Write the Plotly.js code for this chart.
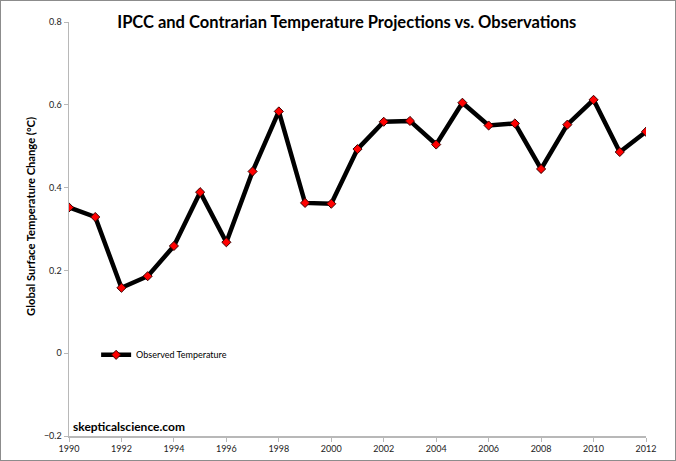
<!DOCTYPE html>
<html>
<head>
<meta charset="utf-8">
<script src="https://cdn.plot.ly/plotly-3.0.1.min.js"></script>
<style>
html,body{margin:0;padding:0;background:#fff;}
#frame{position:absolute;left:0;top:0;width:674px;height:459px;border:1px solid #8c8c8c;}
#chart{position:absolute;left:0;top:0;width:676px;height:461px;}
</style>
</head>
<body>
<div id="chart"></div>
<div id="frame"></div>
<script>
var years = [1990,1991,1992,1993,1994,1995,1996,1997,1998,1999,2000,2001,2002,2003,2004,2005,2006,2007,2008,2009,2010,2011,2012];
var observed = [0.352,0.329,0.158,0.186,0.259,0.389,0.268,0.439,0.584,0.363,0.361,0.493,0.559,0.561,0.504,0.605,0.550,0.555,0.445,0.552,0.612,0.486,0.535];
var seriesName = 'Observed Temperature';
var chartTitle = 'IPCC and Contrarian Temperature Projections vs. Observations';
var yTitle = 'Global Surface Temperature Change (°C)';
var watermark = 'skepticalscience.com';

var trace = {
  x: years, y: observed, name: seriesName, type: 'scatter', mode: 'lines+markers',
  line: {color: '#000000', width: 4.5},
  marker: {symbol: 'diamond', size: 7, color: '#ff0000', line: {color: '#3a0000', width: 1}}
};

var layout = {
  width: 676, height: 461,
  margin: {l: 69, r: 30, t: 22, b: 25, pad: 0},
  paper_bgcolor: '#ffffff', plot_bgcolor: '#ffffff',
  font: {family: 'Lato, "Open Sans", sans-serif', color: '#222', size: 9},
  title: {text: '<b>' + chartTitle + '</b>', font: {family: 'Lato, "Open Sans", sans-serif', size: 16.5, color: '#000'}, x: 0.513, xanchor: 'center', y: 0.952, yanchor: 'middle'},
  xaxis: {
    range: [1990, 2012], dtick: 2, tick0: 1990, showgrid: false, zeroline: false,
    showline: true, linecolor: '#b8b8b8', linewidth: 1.5,
    ticks: 'outside', ticklen: 4, tickcolor: '#b8b8b8', tickfont: {size: 9, color: '#222'}
  },
  yaxis: {
    range: [-0.2, 0.8], dtick: 0.2, tick0: 0, showgrid: false, zeroline: false,
    showline: true, linecolor: '#b8b8b8', linewidth: 1.5,
    ticks: 'outside', ticklen: 4, tickcolor: '#b8b8b8', tickfont: {size: 9, color: '#222'}
  },
  showlegend: true,
  legend: {x: 0.047, y: 0.196, xanchor: 'left', yanchor: 'middle', bgcolor: 'rgba(0,0,0,0)', font: {size: 9, color: '#000'}, itemwidth: 30},
  annotations: [{
    text: '<b>' + watermark + '</b>', xref: 'paper', yref: 'paper', x: 0.004, y: 0.0, xanchor: 'left', yanchor: 'bottom',
    showarrow: false, font: {size: 12, color: '#000'}
  }, {
    text: '<b>' + yTitle + '</b>', xref: 'paper', yref: 'paper', x: -0.068, y: 0.531, xanchor: 'center', yanchor: 'middle',
    textangle: -90, showarrow: false, font: {size: 11.2, color: '#000'}
  }]
};

Plotly.newPlot('chart', [trace], layout, {displayModeBar: false, staticPlot: true});
</script>
</body>
</html>
